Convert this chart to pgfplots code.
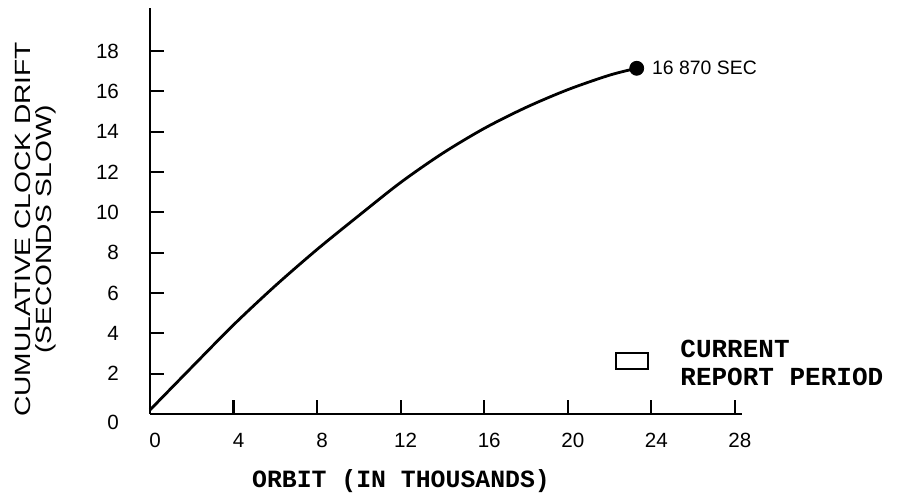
\documentclass[border=0pt]{standalone}
\usepackage{fontspec}
\setmainfont{Liberation Sans}
\newfontfamily\widesans[FakeStretch=1.28]{Liberation Sans}
\newfontfamily\monofont{Liberation Mono}
\usepackage{pgfplots}
\pgfplotsset{compat=1.18}
\begin{document}
\begin{tikzpicture}
\path (-75pt,-42.5pt) rectangle (375pt,207pt);
\begin{axis}[
  at={(0pt,0pt)}, anchor=south west,
  scale only axis, width=296pt, height=203pt,
  xmin=0, xmax=28.34, ymin=0, ymax=20.13,
  axis x line=bottom, axis y line=left,
  axis line style={-, line width=1.2pt, black},
  tick align=inside, major tick length=7pt,
  tick style={line width=1.1pt, black},
  xtick={0,4,...,28}, ytick={2,4,...,18},
  extra y ticks={0}, extra y tick style={yticklabel style={yshift=-4pt}},
  tick label style={font=\fontsize{10.3}{12}\selectfont},
  /pgf/number format/assume math mode=true,
  xticklabel shift=6pt,
  xticklabel style={xshift=2.5pt},
  yticklabel shift=12pt,
  xlabel={ORBIT (IN THOUSANDS)},
  xlabel style={at={(axis description cs:0.424,-0.165)}, anchor=center,
    font=\monofont\bfseries\fontsize{12.4}{14}\selectfont},
  ylabel={CUMULATIVE CLOCK DRIFT\\(SECONDS SLOW)},
  ylabel style={at={(axis description cs:-0.194,0.455)}, anchor=center,
    align=center, font=\widesans\fontsize{11}{10.5}\selectfont},
  clip=false,
  legend cell align=left,
  legend style={at={(axis description cs:0.7855,0.143)}, anchor=west,
    draw=none, fill=none, inner sep=0pt,
    font=\monofont\bfseries\fontsize{13}{14}\selectfont},
]
\addplot[black, line width=1.4pt, smooth, forget plot] coordinates {
 (0,0.2) (2,2.32) (4,4.42) (6,6.36) (8,8.16) (10,9.84) (12,11.48)
 (14,12.92) (16,14.16) (18,15.2) (20,16.08) (22,16.8) (23.3,17.14)
};
\addplot[black, only marks, mark=*, mark size=3.5pt, forget plot,
  nodes near coords={16 870 SEC},
  every node near coord/.append style={anchor=west, xshift=4.2pt,
    font=\fontsize{9.7}{11}\selectfont}]
  coordinates {(23.3,17.14)};
\addlegendimage{legend image code/.code={
  \draw[line width=1pt, black] (0pt,-6.5pt) rectangle (16pt,1.5pt);
  \path[draw=none] (0pt,0pt) -- (30pt,0pt);}}
\addlegendentry{\begin{tabular}[c]{@{}l@{}}CURRENT\\REPORT PERIOD\end{tabular}}
\end{axis}
\end{tikzpicture}
\end{document}
